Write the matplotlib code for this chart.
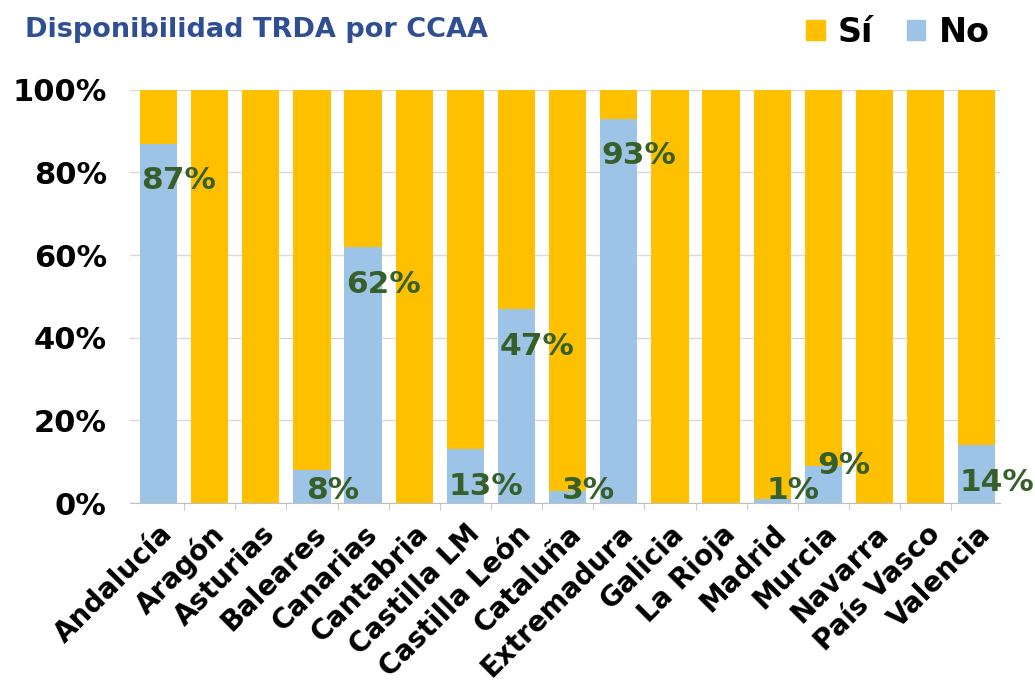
import matplotlib.pyplot as plt
import numpy as np
from matplotlib.patches import Patch

regions = ["Andalucía", "Aragón", "Asturias", "Baleares", "Canarias", "Cantabria",
           "Castilla LM", "Castilla León", "Cataluña", "Extremadura", "Galicia",
           "La Rioja", "Madrid", "Murcia", "Navarra", "País Vasco", "Valencia"]
no_pct = [87, 0, 0, 8, 62, 0, 13, 47, 3, 93, 0, 0, 1, 9, 0, 0, 14]
si_pct = [100 - v for v in no_pct]
y_ticks = [0, 20, 40, 60, 80, 100]

ORANGE = "#FFC000"
BLUE = "#9DC3E6"
GREEN = "#375F2A"

plt.rcParams['font.family'] = ['DejaVu Sans']
plt.rcParams['font.weight'] = 'bold'

fig = plt.figure(figsize=(10.35, 6.91), dpi=100)
ax = fig.add_axes([0.126, 0.272, 0.84, 0.598])

x = np.arange(len(regions))
ax.bar(x, no_pct, width=0.73, color=BLUE, zorder=2)
ax.bar(x, si_pct, width=0.73, bottom=no_pct, color=ORANGE, zorder=2)

# value labels, nudged up when they would collide with the neighbour's label
prev_i, prev_y = None, None
for xi, v in zip(x, no_pct):
    if v == 0:
        continue
    ly = max(v - 9, 3)
    if prev_i is not None and xi - prev_i == 1 and abs(ly - prev_y) < 5:
        ly = prev_y + 6
    ax.text(xi + 0.4, ly, f"{v}%", ha="center", va="center",
            fontsize=22.5, fontweight="bold", color=GREEN, zorder=3)
    prev_i, prev_y = xi, ly

ax.set_xlim(-0.55, len(regions) - 0.55)
ax.set_ylim(0, 100)
ax.set_yticks(y_ticks)
ax.set_yticklabels([f"{t}%" for t in y_ticks], fontsize=22, fontweight="bold")
ax.yaxis.grid(True, color="#D9D9D9", linewidth=1, zorder=0)
ax.tick_params(axis="y", length=0, pad=17)

ax.set_xticks(x)
ax.set_xticklabels(regions, rotation=45, ha="right", rotation_mode="anchor",
                   fontsize=20, fontweight="bold")
ax.set_xticks(x[:-1] + 0.5, minor=True)
ax.tick_params(axis="x", which="major", length=0, pad=12)
ax.tick_params(axis="x", which="minor", length=5, color="#BFBFBF")

for s in ["top", "right", "left"]:
    ax.spines[s].set_visible(False)
ax.spines["bottom"].set_color("#BFBFBF")

fig.text(0.024, 0.957, "Disponibilidad TRDA por CCAA", fontsize=19.5,
         fontweight="bold", color="#2F4F95", ha="left", va="center")

handles = [Patch(color=ORANGE, label="Sí"), Patch(color=BLUE, label="No")]
fig.legend(handles=handles, loc="upper right", bbox_to_anchor=(0.985, 1.02),
           ncol=2, frameon=False, fontsize=24, handlelength=0.55, handleheight=0.55,
           handletextpad=0.4, columnspacing=1.0)

fig.savefig("out.png", dpi=100)
